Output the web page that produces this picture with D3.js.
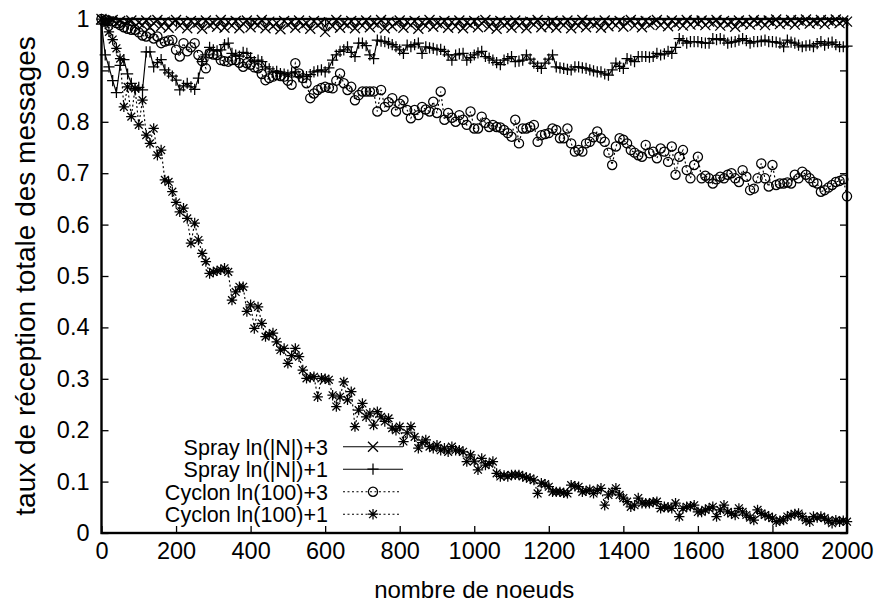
<!DOCTYPE html>
<html>
<head>
<meta charset="utf-8">
<script src="https://cdn.jsdelivr.net/npm/d3@7"></script>
<style>
  body { margin: 0; background: #fff; }
  svg { display: block; }
  text { font-family: "Liberation Sans", Arial, Helvetica, sans-serif; fill: #000; }
</style>
</head>
<body>
<svg id="chart" width="879" height="607"></svg>
<script>
// Number of nodes in the network (one measurement every 10 nodes)
const nodes = d3.range(0, 2001, 10);

// Spray, fanout ln(|N|)+3
const sprayLn3 = [
  1.000, 0.997, 0.995, 0.998, 0.992, 0.996, 0.990, 0.994, 0.997, 0.986,
  0.993, 0.988, 0.997, 0.984, 0.992, 0.998, 0.986, 0.995, 0.983, 0.993,
  0.998, 0.987, 0.994, 0.982, 0.996, 0.989, 0.993, 0.981, 0.997, 0.988,
  0.992, 0.985, 0.998, 0.983, 0.994, 0.987, 0.996, 0.982, 0.991, 0.997,
  0.984, 0.993, 0.988, 0.998, 0.982, 0.995, 0.986, 0.992, 0.980, 0.996,
  0.989, 0.994, 0.983, 0.997, 0.987, 0.992, 0.981, 0.996, 0.988, 0.993,
  0.975, 0.994, 0.986, 0.998, 0.983, 0.992, 0.988, 0.996, 0.982, 0.994,
  0.987, 0.997, 0.984, 0.993, 0.989, 0.998, 0.982, 0.995, 0.986, 0.992,
  0.997, 0.983, 0.994, 0.988, 0.996, 0.981, 0.993, 0.987, 0.998, 0.985,
  0.992, 0.989, 0.996, 0.983, 0.994, 0.986, 0.997, 0.982, 0.993, 0.988,
  0.996, 0.984, 0.992, 0.998, 0.985, 0.994, 0.981, 0.996, 0.988, 0.993,
  0.983, 0.997, 0.987, 0.994, 0.982, 0.995, 0.989, 0.998, 0.984, 0.992,
  0.986, 0.996, 0.983, 0.994, 0.988, 0.997, 0.982, 0.993, 0.987, 0.998,
  0.984, 0.995, 0.989, 0.992, 0.983, 0.997, 0.986, 0.994, 0.988, 0.996,
  0.985, 0.993, 0.998, 0.987, 0.995, 0.984, 0.996, 0.989, 0.993, 0.998,
  0.988, 0.995, 0.986, 0.997, 0.990, 0.994, 0.987, 0.998, 0.989, 0.996,
  0.991, 0.997, 0.988, 0.995, 0.992, 0.998, 0.987, 0.996, 0.990, 0.994,
  0.985, 0.997, 0.991, 0.995, 0.989, 0.998, 0.992, 0.996, 0.988, 0.997,
  0.993, 0.999, 0.990, 0.996, 0.992, 0.998, 0.989, 0.997, 0.994, 0.999,
  0.991, 0.996, 0.993, 0.998, 0.990, 0.997, 0.994, 0.999, 0.992, 0.997,
  0.995
];

// Spray, fanout ln(|N|)+1
const sprayLn1 = [
  0.990, 0.930, 0.907, 0.880, 0.857, 0.910, 0.921, 0.893, 0.875, 0.862,
  0.867, 0.862, 0.936, 0.936, 0.907, 0.915, 0.921, 0.901, 0.895, 0.889,
  0.881, 0.862, 0.870, 0.875, 0.868, 0.863, 0.885, 0.917, 0.930, 0.945,
  0.940, 0.938, 0.940, 0.950, 0.953, 0.933, 0.930, 0.928, 0.935, 0.933,
  0.925, 0.917, 0.920, 0.917, 0.907, 0.903, 0.897, 0.898, 0.894, 0.893,
  0.891, 0.895, 0.897, 0.888, 0.889, 0.888, 0.892, 0.897, 0.899, 0.901,
  0.897, 0.905, 0.920, 0.930, 0.937, 0.940, 0.946, 0.935, 0.927, 0.953,
  0.953, 0.948, 0.930, 0.923, 0.959, 0.957, 0.956, 0.953, 0.950, 0.946,
  0.940, 0.933, 0.949, 0.946, 0.950, 0.953, 0.933, 0.946, 0.944, 0.943,
  0.940, 0.941, 0.937, 0.930, 0.920, 0.930, 0.932, 0.933, 0.920, 0.925,
  0.930, 0.934, 0.937, 0.927, 0.924, 0.920, 0.915, 0.911, 0.920, 0.923,
  0.927, 0.917, 0.918, 0.920, 0.930, 0.922, 0.914, 0.908, 0.904, 0.914,
  0.922, 0.930, 0.907, 0.905, 0.904, 0.902, 0.901, 0.907, 0.907, 0.905,
  0.904, 0.901, 0.899, 0.897, 0.897, 0.893, 0.891, 0.901, 0.914, 0.908,
  0.904, 0.923, 0.920, 0.917, 0.927, 0.927, 0.927, 0.926, 0.927, 0.933,
  0.930, 0.932, 0.937, 0.933, 0.945, 0.962, 0.958, 0.953, 0.956, 0.956,
  0.956, 0.954, 0.953, 0.953, 0.962, 0.960, 0.962, 0.959, 0.953, 0.955,
  0.956, 0.959, 0.962, 0.958, 0.953, 0.956, 0.956, 0.957, 0.959, 0.956,
  0.956, 0.955, 0.953, 0.946, 0.959, 0.955, 0.953, 0.949, 0.946, 0.948,
  0.949, 0.946, 0.952, 0.956, 0.949, 0.953, 0.955, 0.950, 0.946, 0.946,
  0.947
];

// Cyclon, view size ln(100)+3
const cyclonLn3 = [
  1.000, 0.998, 0.996, 0.995, 0.992, 0.988, 0.984, 0.981, 0.979, 0.979,
  0.974, 0.968, 0.966, 0.972, 0.962, 0.966, 0.953, 0.956, 0.958, 0.959,
  0.940, 0.927, 0.953, 0.937, 0.945, 0.953, 0.930, 0.918, 0.904, 0.933,
  0.931, 0.930, 0.920, 0.918, 0.917, 0.920, 0.920, 0.915, 0.907, 0.914,
  0.911, 0.906, 0.904, 0.893, 0.881, 0.885, 0.888, 0.891, 0.889, 0.888,
  0.880, 0.872, 0.914, 0.894, 0.885, 0.875, 0.846, 0.855, 0.862, 0.866,
  0.868, 0.866, 0.865, 0.880, 0.894, 0.875, 0.862, 0.868, 0.842, 0.852,
  0.859, 0.859, 0.859, 0.859, 0.820, 0.862, 0.829, 0.838, 0.846, 0.820,
  0.835, 0.842, 0.823, 0.807, 0.823, 0.813, 0.829, 0.824, 0.820, 0.839,
  0.817, 0.859, 0.804, 0.817, 0.808, 0.800, 0.813, 0.804, 0.794, 0.820,
  0.787, 0.787, 0.810, 0.798, 0.790, 0.794, 0.790, 0.789, 0.784, 0.778,
  0.771, 0.804, 0.758, 0.787, 0.787, 0.790, 0.794, 0.761, 0.774, 0.776,
  0.778, 0.787, 0.784, 0.768, 0.768, 0.787, 0.758, 0.742, 0.745, 0.742,
  0.758, 0.761, 0.770, 0.781, 0.768, 0.761, 0.740, 0.716, 0.752, 0.768,
  0.765, 0.758, 0.745, 0.740, 0.735, 0.732, 0.755, 0.739, 0.742, 0.729,
  0.748, 0.742, 0.722, 0.752, 0.697, 0.732, 0.745, 0.706, 0.690, 0.716,
  0.732, 0.690, 0.695, 0.690, 0.680, 0.688, 0.693, 0.690, 0.697, 0.700,
  0.690, 0.683, 0.706, 0.693, 0.667, 0.670, 0.690, 0.719, 0.690, 0.674,
  0.716, 0.677, 0.680, 0.680, 0.682, 0.680, 0.697, 0.690, 0.703, 0.697,
  0.690, 0.683, 0.680, 0.664, 0.667, 0.672, 0.677, 0.683, 0.685, 0.688,
  0.655
];

// Cyclon, view size ln(100)+1
const cyclonLn1 = [
  1.000, 0.990, 0.975, 0.960, 0.943, 0.923, 0.829, 0.868, 0.810, 0.865,
  0.794, 0.842, 0.774, 0.758, 0.787, 0.735, 0.745, 0.687, 0.683, 0.664,
  0.643, 0.625, 0.632, 0.612, 0.564, 0.603, 0.570, 0.544, 0.528, 0.505,
  0.508, 0.510, 0.512, 0.515, 0.508, 0.453, 0.469, 0.479, 0.479, 0.431,
  0.444, 0.398, 0.440, 0.408, 0.382, 0.386, 0.389, 0.372, 0.356, 0.359,
  0.330, 0.345, 0.359, 0.343, 0.317, 0.301, 0.303, 0.304, 0.265, 0.301,
  0.300, 0.298, 0.268, 0.246, 0.265, 0.294, 0.259, 0.275, 0.207, 0.239,
  0.252, 0.226, 0.233, 0.210, 0.236, 0.226, 0.217, 0.223, 0.204, 0.200,
  0.207, 0.178, 0.195, 0.207, 0.187, 0.165, 0.176, 0.181, 0.168, 0.165,
  0.171, 0.161, 0.165, 0.158, 0.168, 0.161, 0.161, 0.158, 0.139, 0.152,
  0.140, 0.123, 0.145, 0.132, 0.135, 0.139, 0.116, 0.110, 0.112, 0.110,
  0.113, 0.113, 0.113, 0.110, 0.108, 0.106, 0.103, 0.077, 0.097, 0.095,
  0.090, 0.080, 0.080, 0.080, 0.078, 0.077, 0.093, 0.091, 0.090, 0.080,
  0.082, 0.084, 0.077, 0.083, 0.087, 0.054, 0.074, 0.080, 0.087, 0.074,
  0.068, 0.061, 0.051, 0.054, 0.068, 0.058, 0.058, 0.058, 0.060, 0.061,
  0.048, 0.051, 0.050, 0.048, 0.058, 0.032, 0.048, 0.051, 0.052, 0.054,
  0.041, 0.041, 0.045, 0.048, 0.051, 0.032, 0.045, 0.054, 0.041, 0.038,
  0.035, 0.048, 0.041, 0.035, 0.030, 0.025, 0.045, 0.038, 0.035, 0.032,
  0.029, 0.022, 0.024, 0.025, 0.032, 0.035, 0.037, 0.038, 0.032, 0.025,
  0.022, 0.032, 0.030, 0.032, 0.029, 0.024, 0.019, 0.025, 0.022, 0.024,
  0.022
];

const seriesNames = ["Spray ln(|N|)+3", "Spray ln(|N|)+1", "Cyclon ln(100)+3", "Cyclon ln(100)+1"];
const xTicks = [0, 200, 400, 600, 800, 1000, 1200, 1400, 1600, 1800, 2000];
const yTicks = [0, 0.1, 0.2, 0.3, 0.4, 0.5, 0.6, 0.7, 0.8, 0.9, 1];
const xTitle = "nombre de noeuds";
const yTitle = "taux de réception totale des messages";

const series = [
  { name: seriesNames[0], values: sprayLn3,  marker: "cross",  dashed: false },
  { name: seriesNames[1], values: sprayLn1,  marker: "plus",   dashed: false },
  { name: seriesNames[2], values: cyclonLn3, marker: "circle", dashed: true },
  { name: seriesNames[3], values: cyclonLn1, marker: "star",   dashed: true }
];

const svg = d3.select("#chart");
const plotLeft = 101.5, plotRight = 847, plotTop = 19, plotBottom = 533;

const x = d3.scaleLinear().domain([0, 2000]).range([plotLeft, plotRight]);
const y = d3.scaleLinear().domain([0, 1]).range([plotBottom, plotTop]);

// gnuplot-like point shapes, drawn as strokes around the origin
function markerPath(type) {
  const s = 5.2;
  const c = 5;
  switch (type) {
    case "cross": return `M${-c},${-c}L${c},${c}M${-c},${c}L${c},${-c}`;
    case "plus":  return `M${-s - 0.4},0H${s + 0.4}M0,${-s - 0.4}V${s + 0.4}`;
    case "star":  return `M${-s},0H${s}M0,${-s}V${s}M${-c * 0.78},${-c * 0.78}L${c * 0.78},${c * 0.78}M${-c * 0.78},${c * 0.78}L${c * 0.78},${-c * 0.78}`;
    default: return null;
  }
}

function drawMarker(sel, type) {
  if (type === "circle") {
    sel.append("circle").attr("r", 4.6).attr("fill", "none").attr("stroke", "#000").attr("stroke-width", 1.25);
  } else {
    sel.append("path").attr("d", markerPath(type)).attr("fill", "none").attr("stroke", "#000").attr("stroke-width", 1.25);
  }
}

// Axes with inward ticks, mirrored on the top and right sides
const tickStyle = g => {
  g.select(".domain").remove();
  g.selectAll(".tick line").attr("stroke", "#000").attr("stroke-width", 1.3);
  g.selectAll(".tick text").attr("font-size", 23.5).attr("font-family", null);
};

svg.append("g").attr("transform", `translate(0,${plotBottom})`)
  .call(d3.axisBottom(x).tickValues(xTicks).tickSize(-7).tickPadding(9).tickFormat(d3.format("d")))
  .call(tickStyle);
svg.append("g").attr("transform", `translate(0,${plotTop})`)
  .call(d3.axisTop(x).tickValues(xTicks).tickSize(-7).tickFormat(""))
  .call(tickStyle);
svg.append("g").attr("transform", `translate(${plotLeft},0)`)
  .call(d3.axisLeft(y).tickValues(yTicks).tickSize(-7).tickPadding(12).tickFormat(d3.format("~g")))
  .call(tickStyle);
svg.append("g").attr("transform", `translate(${plotRight},0)`)
  .call(d3.axisRight(y).tickValues(yTicks).tickSize(-7).tickFormat(""))
  .call(tickStyle);

// Plot border
svg.append("rect")
  .attr("x", plotLeft).attr("y", plotTop)
  .attr("width", plotRight - plotLeft).attr("height", plotBottom - plotTop)
  .attr("fill", "none").attr("stroke", "#000").attr("stroke-width", 2.4);

// Series: connecting line plus one marker per measurement
const line = d3.line().x((d, i) => x(nodes[i])).y(d => y(d));

series.forEach(s => {
  const g = svg.append("g");
  g.append("path")
    .attr("d", line(s.values))
    .attr("fill", "none")
    .attr("stroke", "#000")
    .attr("stroke-width", 1.15)
    .attr("stroke-dasharray", s.dashed ? "2,2.5" : null);
  g.selectAll("g.pt").data(s.values).join("g")
    .attr("class", "pt")
    .attr("transform", (d, i) => `translate(${x(nodes[i])},${y(d)})`)
    .each(function () { drawMarker(d3.select(this), s.marker); });
});

// Legend, bottom left inside the plot
const legend = svg.append("g");
series.forEach((s, i) => {
  const ly = 446.7 + i * 22.5;
  const row = legend.append("g");
  row.append("text")
    .attr("x", 328).attr("y", ly + 8)
    .attr("text-anchor", "end")
    .attr("font-size", 21.5)
    .text(s.name);
  row.append("line")
    .attr("x1", 343).attr("x2", s.dashed ? 401 : 403)
    .attr("y1", ly).attr("y2", ly)
    .attr("stroke", "#000").attr("stroke-width", 1.15)
    .attr("stroke-dasharray", s.dashed ? "2,2.5" : null);
  drawMarker(row.append("g").attr("transform", `translate(373,${ly})`), s.marker);
});

// Axis titles
svg.append("text")
  .attr("x", (plotLeft + plotRight) / 2).attr("y", 598)
  .attr("text-anchor", "middle")
  .attr("font-size", 24)
  .text(xTitle);

svg.append("text")
  .attr("transform", `translate(35,${(plotTop + plotBottom) / 2}) rotate(-90)`)
  .attr("text-anchor", "middle")
  .attr("font-size", 28)
  .text(yTitle);
</script>
</body>
</html>
